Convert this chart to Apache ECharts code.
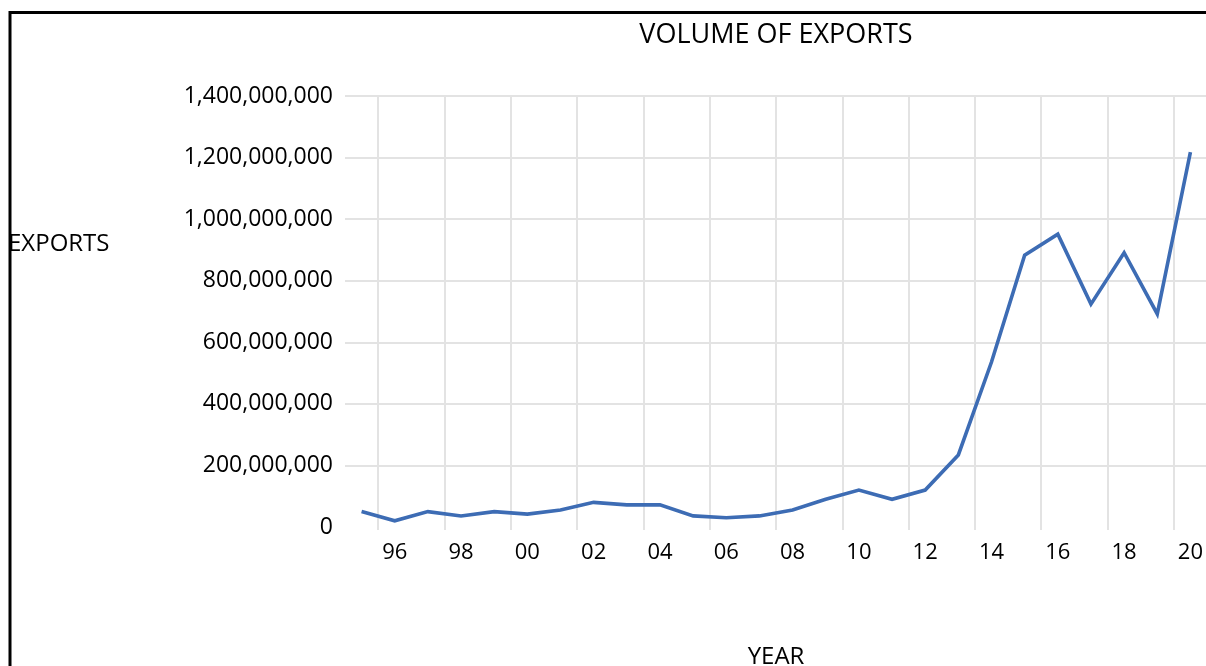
<!DOCTYPE html>
<html>
<head>
<meta charset="utf-8">
<script src="https://cdn.jsdelivr.net/npm/echarts@6/dist/echarts.min.js"></script>
<style>
html,body{margin:0;padding:0;background:#fff;}
#chart{width:1206px;height:666px;}
</style>
</head>
<body>
<div id="chart"></div>
<script>
const years = ['1995','1996','1997','1998','1999','2000','2001','2002','2003','2004','2005','2006','2007','2008','2009','2010','2011','2012','2013','2014','2015','2016','2017','2018','2019','2020'];
const exportsVolume = [50000000,20000000,50000000,36000000,50000000,42000000,55000000,80000000,72000000,72000000,36000000,30000000,36000000,55000000,90000000,120000000,90000000,120000000,234000000,536000000,883000000,951000000,724000000,891000000,692000000,1218000000];
const yTicks = [0,200000000,400000000,600000000,800000000,1000000000,1200000000,1400000000];

const FONT = 'Open Sans';
const chart = echarts.init(document.getElementById('chart'), null, {renderer:'canvas'});
const odd = function(i){ return i % 2 === 1; };
chart.setOption({
  animation:false,
  backgroundColor:'#fff',
  title:{
    text:'VOLUME OF EXPORTS',
    left:771, top:17, textAlign:'center',
    textStyle:{fontFamily:FONT,fontSize:27,fontWeight:'normal',color:'#000'}
  },
  grid:{left:345, top:96, width:862, height:431, containLabel:false, outerBoundsMode:'none'},
  xAxis:{
    type:'category',
    data:years,
    boundaryGap:true,
    name:'YEAR',
    nameLocation:'middle',
    nameGap:118,
    nameTextStyle:{fontFamily:FONT,fontSize:24,color:'#000'},
    axisLine:{show:false},
    axisTick:{show:true,interval:odd,length:3,lineStyle:{color:'#e3e3e3',width:2}},
    axisLabel:{interval:odd,margin:15,fontFamily:FONT,fontSize:22,color:'#000',
      formatter:function(v){return v.slice(2);}},
    splitLine:{show:true,interval:odd,lineStyle:{color:'#e3e3e3',width:2}}
  },
  yAxis:{
    type:'value',
    min:yTicks[0], max:yTicks[yTicks.length-1], interval:yTicks[1]-yTicks[0],
    axisLine:{show:false},
    axisTick:{show:false},
    axisLabel:{margin:12,fontFamily:FONT,fontSize:23,color:'#000',
      formatter:function(v){return v.toLocaleString('en-US');}},
    splitLine:{show:true,showMinLine:false,lineStyle:{color:'#e3e3e3',width:2}}
  },
  series:[{
    type:'line',
    data:exportsVolume,
    showSymbol:false,
    symbol:'none',
    lineStyle:{color:'#3d6cb4',width:3.6,join:'miter'},
    itemStyle:{color:'#3d6cb4'}
  }],
  graphic:[
    {type:'rect',shape:{x:10,y:12.5,width:1400,height:800},style:{fill:'none',stroke:'#000',lineWidth:3},silent:true,z:100},
    {type:'text',left:8,top:232,style:{text:'EXPORTS',fontFamily:FONT,fontSize:24,fill:'#000'},z:101}
  ]
});
</script>
</body>
</html>
